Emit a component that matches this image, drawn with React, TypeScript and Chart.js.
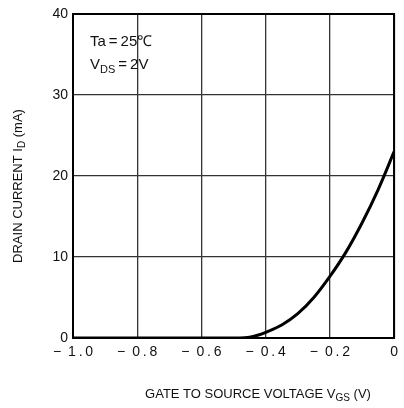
import React, { useEffect, useRef } from "react";
import { Chart, registerables } from "chart.js";

Chart.register(...registerables);

// Gate-source voltage (V) and drain current (mA)
const vgs: number[] = [-1.0, -0.5, -0.48, -0.45, -0.42, -0.4, -0.35, -0.3, -0.25, -0.2, -0.15, -0.1, -0.05, 0];
const idrain: number[] = [0, 0, 0, 0.1, 0.4, 0.7, 1.6, 3.0, 5.0, 7.6, 10.6, 14.2, 18.3, 23.0];

const xTicks: number[] = [-1.0, -0.8, -0.6, -0.4, -0.2, 0];
const yTicks: number[] = [0, 10, 20, 30, 40];

const FONT = "'Liberation Sans', Arial, sans-serif";

type Seg = { t: string; sub?: boolean };

function drawSegs(ctx: CanvasRenderingContext2D, segs: Seg[], x: number, y: number, size: number, align: "left" | "center") {
  const subSize = Math.round(size * 0.75);
  let total = 0;
  const widths = segs.map((s) => {
    ctx.font = `${s.sub ? subSize : size}px ${FONT}`;
    const w = ctx.measureText(s.t).width;
    total += w;
    return w;
  });
  let cx = align === "center" ? x - total / 2 : x;
  segs.forEach((s, i) => {
    ctx.font = `${s.sub ? subSize : size}px ${FONT}`;
    ctx.fillText(s.t, cx, s.sub ? y + size * 0.3 : y);
    cx += widths[i];
  });
}

const textPlugin = {
  id: "textPlugin",
  afterDraw(chart: any) {
    const ctx: CanvasRenderingContext2D = chart.ctx;
    const a = chart.chartArea;
    ctx.save();
    // frame
    ctx.strokeStyle = "#000";
    ctx.lineWidth = 2;
    ctx.strokeRect(a.left, a.top, a.right - a.left, a.bottom - a.top);
    ctx.fillStyle = "#111";
    ctx.textBaseline = "middle";
    ctx.textAlign = "left";
    // annotation
    drawSegs(ctx, [{ t: "Ta\u2009=\u200925\u2103" }], a.left + 17, a.top + 28, 15, "left");
    drawSegs(ctx, [{ t: "V" }, { t: "DS", sub: true }, { t: "\u2009=\u20092V" }], a.left + 17, a.top + 51, 15, "left");
    // x title
    drawSegs(
      ctx,
      [{ t: "GATE TO SOURCE VOLTAGE V" }, { t: "GS", sub: true }, { t: " (V)" }],
      258,
      394,
      13,
      "center"
    );
    // y title
    ctx.translate(18, 186);
    ctx.rotate(-Math.PI / 2);
    drawSegs(ctx, [{ t: "DRAIN CURRENT I" }, { t: "D", sub: true }, { t: " (mA)" }], 0, 0, 13, "center");
    ctx.restore();
  },
};

function fmtX(v: number): string {
  if (Math.abs(v) < 1e-9) return "0";
  const s = Math.abs(v).toFixed(1);
  return "\u2212\u2002" + s[0] + "\u2009.\u2009" + s[2];
}

export default function App() {
  const ref = useRef<HTMLCanvasElement | null>(null);
  useEffect(() => {
    if (!ref.current) return;
    const chart = new Chart(ref.current, {
      type: "line",
      data: {
        datasets: [
          {
            data: vgs.map((v, i) => ({ x: v, y: idrain[i] })),
            borderColor: "#000",
            borderWidth: 3,
            pointRadius: 0,
            tension: 0.4,
            cubicInterpolationMode: "monotone",
            fill: false,
          },
        ],
      },
      options: {
        animation: false,
        responsive: true,
        maintainAspectRatio: false,
        layout: { padding: { top: 14, right: 6, left: 0, bottom: 0 } },
        plugins: { legend: { display: false }, tooltip: { enabled: false } },
        scales: {
          x: {
            type: "linear",
            min: -1,
            max: 0,
            afterBuildTicks: (s: any) => {
              s.ticks = xTicks.map((v) => ({ value: v }));
            },
            afterFit: (s: any) => {
              s.height = 70;
            },
            ticks: {
              callback: (v: any) => fmtX(Number(v)),
              color: "#111",
              font: { family: FONT, size: 14 },
              padding: 6,
              maxRotation: 0,
              autoSkip: false,
            },
            grid: { color: "#333", lineWidth: 1.3, drawTicks: false },
            border: { color: "#000", width: 2 },
          },
          y: {
            type: "linear",
            min: 0,
            max: 40,
            afterBuildTicks: (s: any) => {
              s.ticks = yTicks.map((v) => ({ value: v }));
            },
            afterFit: (s: any) => {
              s.width = 73;
            },
            ticks: {
              color: "#111",
              font: { family: FONT, size: 14 },
              padding: 5,
            },
            grid: { color: "#333", lineWidth: 1.3, drawTicks: false },
            border: { color: "#000", width: 2 },
          },
        },
      },
      plugins: [textPlugin],
    } as any);
    return () => chart.destroy();
  }, []);
  return (
    <div style={{ position: "absolute", left: 0, top: 0, width: 404, height: 408, background: "#fff" }}>
      <canvas ref={ref} />
    </div>
  );
}
